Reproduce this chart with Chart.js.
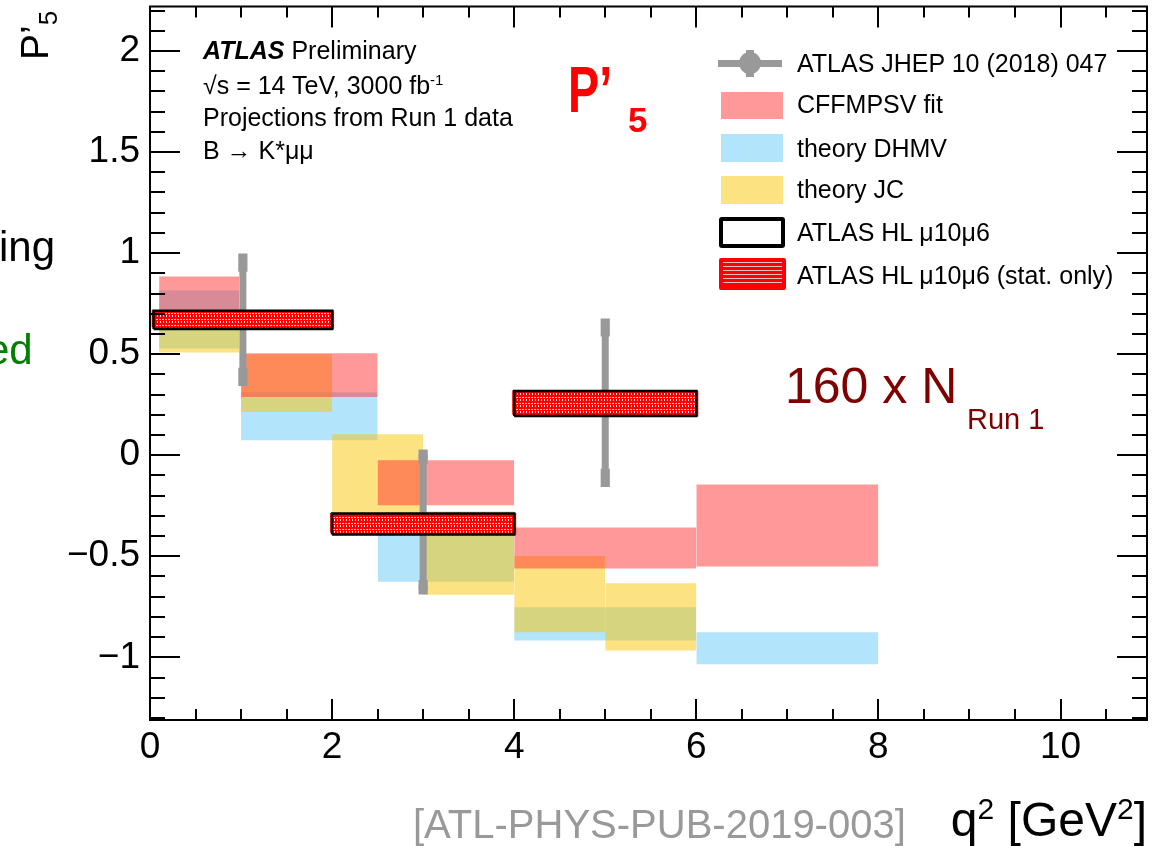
<!DOCTYPE html>
<html>
<head>
<meta charset="utf-8">
<title>P'5 projection</title>
<script src="https://cdn.jsdelivr.net/npm/chart.js@4.4.1/dist/chart.umd.min.js"></script>
<style>
  body { margin: 0; background: #fff; }
  #wrap { position: relative; width: 1164px; height: 846px; overflow: hidden;
          font-family: "Liberation Sans", Arial, Helvetica, sans-serif; }
  #wrap canvas { position: absolute; left: 0; top: 0; }
  .lbl { position: absolute; white-space: nowrap; line-height: 1; }
  .leg { font-size: 25px; left: 797px; }
  .sw { position: absolute; box-sizing: border-box; }
</style>
</head>
<body>
<div id="wrap">
  <canvas id="p5Chart" width="1164" height="846"></canvas>

  <div class="lbl" style="left:-1px;top:226px;font-size:42px;">ing</div>
  <div class="lbl" style="left:-14px;top:329px;font-size:42px;color:#008000;">ed</div>

  <div class="lbl" style="left:15px;top:60px;font-size:39px;transform:rotate(-90deg);transform-origin:0 0;">P’<sub style="font-size:26px;">5</sub></div>

  <div class="lbl" style="left:203px;top:38px;font-size:25px;"><b><i>ATLAS</i></b> Preliminary</div>
  <div class="lbl" style="left:203px;top:72px;font-size:25px;">√s = 14 TeV, 3000 fb<sup style="font-size:15px;">-1</sup></div>
  <div class="lbl" style="left:203px;top:105px;font-size:25px;">Projections from Run 1 data</div>
  <div class="lbl" style="left:203px;top:138px;font-size:25px;">B → K*μμ</div>

  <div class="lbl" style="left:568px;top:57px;font-size:65px;font-weight:bold;color:#ff0000;transform:scaleX(0.72);transform-origin:0 0;">P’</div>
  <div class="lbl" style="left:628px;top:102px;font-size:35px;font-weight:bold;color:#ff0000;">5</div>

  <div class="lbl" style="left:785px;top:361px;font-size:50px;color:#800000;">160 x N</div>
  <div class="lbl" style="left:967px;top:405px;font-size:29px;color:#800000;">Run 1</div>

  <!-- legend -->
  <div class="sw" style="left:718px;top:60px;width:64px;height:7px;background:#999;"></div>
  <div class="sw" style="left:746px;top:50px;width:8px;height:27px;background:#999;"></div>
  <div class="sw" style="left:739px;top:52px;width:22px;height:22px;border-radius:50%;background:#999;"></div>
  <div class="sw" style="left:721px;top:92px;width:62px;height:27px;background:rgba(255,51,51,0.5);"></div>
  <div class="sw" style="left:721px;top:134px;width:62px;height:28px;background:rgba(101,201,249,0.5);"></div>
  <div class="sw" style="left:721px;top:176px;width:62px;height:28px;background:rgba(251,197,3,0.5);"></div>
  <div class="sw" style="left:719px;top:217px;width:66px;height:31px;border:4px solid #000;border-radius:3px;"></div>
  <div class="sw" style="left:719px;top:258px;width:67px;height:32px;border:4px solid #f00;border-radius:2px;background:#f00 repeating-linear-gradient(0deg,#f00 0 3px,#e0c0c0 3px 4px);"></div>

  <div class="lbl leg" style="top:51px;">ATLAS JHEP 10 (2018) 047</div>
  <div class="lbl leg" style="top:92px;">CFFMPSV fit</div>
  <div class="lbl leg" style="top:136px;">theory DHMV</div>
  <div class="lbl leg" style="top:177px;">theory JC</div>
  <div class="lbl leg" style="top:220px;">ATLAS HL μ10μ6</div>
  <div class="lbl leg" style="top:263px;">ATLAS HL μ10μ6 (stat. only)</div>

  <div class="lbl" style="left:413px;top:804px;font-size:40px;color:#999;">[ATL-PHYS-PUB-2019-003]</div>
  <div class="lbl" style="right:17px;top:794px;font-size:48px;">q<sup style="font-size:30px;">2</sup> [GeV<sup style="font-size:30px;">2</sup>]</div>
</div>

<script>
// theory bands: q2 bin edges and [low, high] of P'5
const cffmpsvBins = [[0.1, 0.98], [1.0, 2.5], [2.5, 4.0], [4.0, 6.0], [6.0, 8.0]];
const cffmpsvBands = [[0.65, 0.884], [0.288, 0.505], [-0.248, -0.025], [-0.56, -0.357], [-0.55, -0.145]];

const dhmvBins = [[0.1, 0.98], [1.0, 2.5], [2.5, 4.0], [4.0, 6.0], [6.0, 8.0]];
const dhmvBands = [[0.528, 0.815], [0.074, 0.312], [-0.626, -0.33], [-0.917, -0.752], [-1.034, -0.876]];

const jcBins = [[0.1, 0.98], [1.0, 2.0], [2.0, 3.0], [3.0, 4.0], [4.0, 5.0], [5.0, 6.0]];
const jcBands = [[0.508, 0.68], [0.214, 0.50], [-0.33, 0.104], [-0.69, -0.277], [-0.876, -0.499], [-0.966, -0.634]];

// ATLAS JHEP 10 (2018) 047 measurement
const jhepQ2 = [1.02, 3.0, 5.0];
const jhepLo = [0.04, 2.0, 4.0];
const jhepHi = [2.0, 4.0, 6.0];
const jhepP5 = [0.67, -0.33, 0.26];
const jhepStat = [0.26, 0.31, 0.35];
const jhepTot = [0.305, 0.336, 0.394];

// HL-LHC projection boxes
const hlLo = [0.04, 2.0, 4.0];
const hlHi = [2.0, 4.0, 6.0];
const hlP5 = [0.67, -0.34, 0.256];
const hlTot = [0.045, 0.052, 0.062];
const hlStat = [0.037, 0.044, 0.054];

const xTicks = [0, 2, 4, 6, 8, 10];
const yTicks = [-1, -0.5, 0, 0.5, 1, 1.5, 2];

const pink = "rgba(255, 51, 51, 0.5)";
const blue = "rgba(101, 201, 249, 0.5)";
const yellow = "rgba(251, 197, 3, 0.5)";
const gray = "#999999";
const clear = "rgba(0,0,0,0)";

function hatch() {
    const c = document.createElement("canvas");
    c.width = 6; c.height = 6;
    const g = c.getContext("2d");
    g.fillStyle = "#ff0000";
    g.fillRect(0, 0, 6, 6);
    g.fillStyle = "#c8c8c8";
    g.fillRect(0, 1, 2, 1); g.fillRect(3, 1, 2, 1);
    g.fillStyle = "#f4dada";
    g.fillRect(1, 3, 1, 2); g.fillRect(4, 3, 1, 2);
    return g.createPattern(c, "repeat");
}

function bandSets(bins, bands, color, order) {
    return bins.map((b, i) => ({
        data: [{ x: b[0], y: bands[i][1] }, { x: b[1], y: bands[i][1] }],
        fill: { value: bands[i][0] },
        backgroundColor: color,
        borderColor: clear,
        pointRadius: 0,
        order: order
    }));
}

function rectPath(x0, x1, lo, hi) {
    return [{ x: x0, y: lo }, { x: x1, y: lo }, { x: x1, y: hi }, { x: x0, y: hi }, { x: x0, y: lo }];
}

const datasets = [];
datasets.push(...bandSets(dhmvBins, dhmvBands, blue, 6));
datasets.push(...bandSets(jcBins, jcBands, yellow, 5));
datasets.push(...bandSets(cffmpsvBins, cffmpsvBands, pink, 4));

jhepQ2.forEach((q, i) => {
    datasets.push({
        data: [{ x: q, y: jhepP5[i] - jhepTot[i] }, { x: q, y: jhepP5[i] + jhepTot[i] }],
        borderColor: gray, borderWidth: 7, pointRadius: 0, fill: false, order: 3
    });
    datasets.push({
        data: [{ x: jhepLo[i], y: jhepP5[i] }, { x: jhepHi[i], y: jhepP5[i] }],
        borderColor: gray, borderWidth: 7, pointRadius: 0, fill: false, order: 3
    });
});
const caps = [];
jhepQ2.forEach((q, i) => {
    caps.push({ x: q, y: jhepP5[i] + jhepStat[i] }, { x: q, y: jhepP5[i] - jhepStat[i] });
    caps.push({ x: q, y: jhepP5[i] + jhepTot[i] }, { x: q, y: jhepP5[i] - jhepTot[i] });
});
datasets.push({
    data: caps, showLine: false, pointStyle: "rect", pointRadius: 6.5,
    pointBackgroundColor: gray, pointBorderWidth: 0, order: 3
});

const pattern = hatch();
hlP5.forEach((p, i) => {
    datasets.push({
        data: [{ x: hlLo[i], y: p + hlStat[i] }, { x: hlHi[i], y: p + hlStat[i] }],
        fill: { value: p - hlStat[i] },
        backgroundColor: pattern, borderColor: clear, pointRadius: 0, order: 2
    });
    datasets.push({
        data: rectPath(hlLo[i], hlHi[i], p - hlStat[i], p + hlStat[i]),
        borderColor: "#ff0000", borderWidth: 4, borderJoinStyle: "miter",
        pointRadius: 0, fill: false, order: 2
    });
    datasets.push({
        data: rectPath(hlLo[i], hlHi[i], p - hlTot[i], p + hlTot[i]),
        borderColor: "#000000", borderWidth: 2.5, borderJoinStyle: "miter",
        pointRadius: 0, fill: false, order: 1
    });
});

// ROOT style frame with inward ticks on all four sides
const rootFrame = {
    id: "rootFrame",
    afterDatasetsDraw(chart) {
        const { ctx, chartArea: a, scales: { x, y } } = chart;
        ctx.save();
        ctx.strokeStyle = "#000";
        ctx.lineWidth = 2;
        ctx.beginPath();
        for (let i = 0; i <= 21; i++) {
            const px = Math.round(x.getPixelForValue(i * 0.5));
            const len = i % 4 === 0 ? 21 : 11;
            ctx.moveTo(px, a.bottom); ctx.lineTo(px, a.bottom - len);
            ctx.moveTo(px, a.top); ctx.lineTo(px, a.top + len);
        }
        for (let i = -13; i <= 22; i++) {
            const py = Math.round(y.getPixelForValue(i / 10));
            const len = i % 5 === 0 ? 30 : 15;
            ctx.moveTo(a.left, py); ctx.lineTo(a.left + len, py);
            ctx.moveTo(a.right, py); ctx.lineTo(a.right - len, py);
        }
        ctx.stroke();
        ctx.strokeRect(a.left, a.top, a.right - a.left, a.bottom - a.top);
        ctx.restore();
    }
};

const tickFont = { family: "'Liberation Sans', Arial, sans-serif", size: 37 };

new Chart(document.getElementById("p5Chart"), {
    type: "line",
    data: { datasets: datasets },
    options: {
        responsive: false,
        devicePixelRatio: 1,
        animation: false,
        layout: { padding: { top: 5, right: 17, left: 0, bottom: 0 } },
        plugins: {
            legend: { display: false },
            tooltip: { enabled: false }
        },
        elements: { line: { tension: 0 } },
        scales: {
            x: {
                type: "linear",
                min: 0,
                max: 10.95,
                grid: { display: false, drawTicks: false },
                border: { display: false },
                afterFit: (s) => { s.height = 126; s.paddingLeft = 0; s.paddingRight = 0; },
                afterBuildTicks: (s) => { s.ticks = xTicks.map(v => ({ value: v })); },
                ticks: { font: tickFont, color: "#000", padding: 6, maxRotation: 0, autoSkip: false }
            },
            y: {
                type: "linear",
                min: -1.31,
                max: 2.22,
                grid: { display: false, drawTicks: false },
                border: { display: false },
                afterFit: (s) => { s.width = 150; s.paddingTop = 0; s.paddingBottom = 0; },
                afterBuildTicks: (s) => { s.ticks = yTicks.map(v => ({ value: v })); },
                ticks: {
                    font: tickFont, color: "#000", padding: 10, autoSkip: false,
                    callback: (v) => (v < 0 ? "\u2212" : "") + Math.abs(v)
                }
            }
        }
    },
    plugins: [rootFrame]
});
</script>
</body>
</html>
